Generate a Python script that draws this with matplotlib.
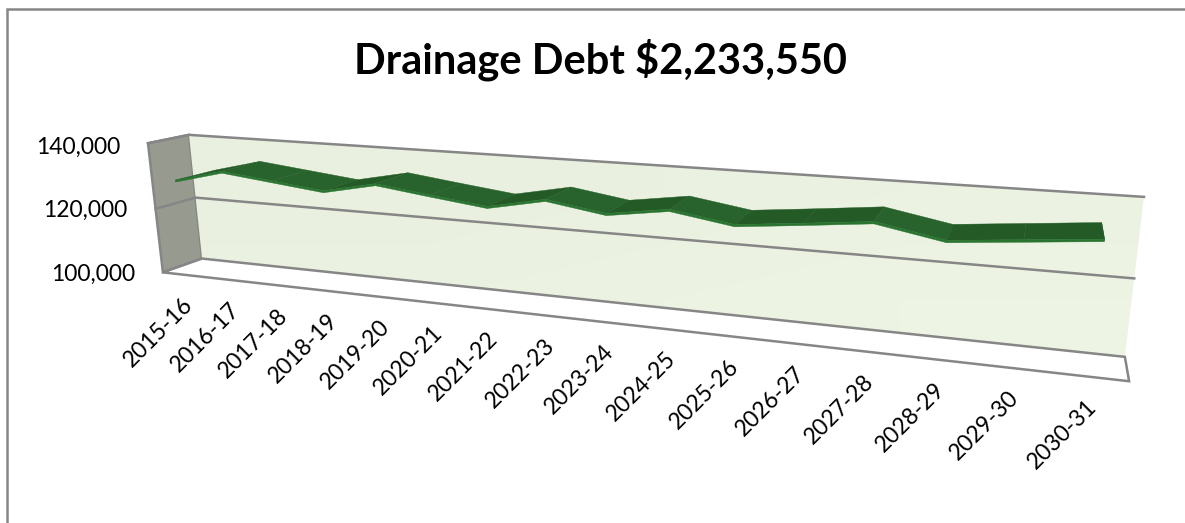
import numpy as np
import matplotlib.pyplot as plt
from matplotlib.patches import Polygon
from matplotlib.colors import LinearSegmentedColormap

plt.rcParams['font.family'] = ['Lato', 'DejaVu Sans']

title = 'Drainage Debt $2,233,550'
years = ['2015-16', '2016-17', '2017-18', '2018-19', '2019-20', '2020-21',
         '2021-22', '2022-23', '2023-24', '2024-25', '2025-26', '2026-27',
         '2027-28', '2028-29', '2029-30', '2030-31']
debt = [129400, 133200, 131500, 129800, 133000, 131000, 129100, 132300,
        129800, 132200, 129600, 131300, 133100, 129900, 131500, 133100]
y_ticks = [100000, 120000, 140000]
y_min, y_max = 100000, 140000

GRAY = '#868686'
SIDE = '#979a8e'
RIBBON_DOWN = '#28622c'
RIBBON_FLAT = '#245a26'
RIBBON_EDGE = '#2a7431'
RIBBON_DROP = 600  # thickness of the ribbon, in axis units

# box corners (category pos, axis fraction, depth) and where they land on the canvas
box_3d = [(0, 0, 0), (0, 1, 0), (0, 0, 1), (0, 1, 1),
          (16, 1, 1), (16, 0, 1), (16, 0, 0)]
box_px = [(163, 272), (148, 143), (202, 259), (189, 135),
          (1144, 197), (1125, 356), (1129, 382)]


def fitCamera(pts3d, pts2d):
    rows = []
    for (x, y, z), (u, v) in zip(pts3d, pts2d):
        rows.append([x, y, z, 1, 0, 0, 0, 0, -u * x, -u * y, -u * z, -u])
        rows.append([0, 0, 0, 0, x, y, z, 1, -v * x, -v * y, -v * z, -v])
    _, _, vt = np.linalg.svd(np.array(rows, dtype=float))
    return vt[-1].reshape(3, 4)


camera = fitCamera(box_3d, box_px)


def project(x, value, z):
    frac = (value - y_min) / (y_max - y_min)
    p = camera @ np.array([x, frac, z, 1.0])
    return p[0] / p[2], p[1] / p[2]


fig = plt.figure(figsize=(11.85, 5.23), dpi=100)
ax = fig.add_axes([0, 0, 1, 1])
ax.set_xlim(0, 1185)
ax.set_ylim(523, 0)
ax.axis('off')

# chart frame, only top and left sides
ax.plot([7, 7, 1185], [523, 9, 9], color=GRAY, lw=1.8, solid_joinstyle='miter')

# side wall, back wall, floor
side = [project(0, y_min, 0), project(0, y_max, 0), project(0, y_max, 1), project(0, y_min, 1)]
back = [project(0, y_min, 1), project(0, y_max, 1), project(16, y_max, 1), project(16, y_min, 1)]
floor = [project(0, y_min, 0), project(0, y_min, 1), project(16, y_min, 1), project(16, y_min, 0)]
ax.add_patch(Polygon(side, closed=True, fc=SIDE, ec=GRAY, lw=1.8, zorder=1))

# back wall has a faint gradient, lighter towards the upper right
wall_cmap = LinearSegmentedColormap.from_list('wall', ['#e9f0df', '#eef4e4'])
wall_clip = Polygon(back, closed=True, fc='none', ec='none', transform=ax.transData)
ax.add_patch(wall_clip)
grad = np.array([[0.0, 0.5], [0.5, 1.0]])
wall_img = ax.imshow(grad, cmap=wall_cmap, extent=(189, 1144, 356, 135), aspect='auto',
                     interpolation='bilinear', zorder=1)
wall_img.set_clip_path(wall_clip)
ax.set_xlim(0, 1185)
ax.set_ylim(523, 0)

ax.add_patch(Polygon(floor, closed=True, fc='white', ec=GRAY, lw=1.8, zorder=2))

# top edge of the back wall and the gridlines
for tick in y_ticks[1:]:
    pts = [project(0, tick, 0), project(0, tick, 1), project(16, tick, 1)]
    ax.plot(*zip(*pts), color=GRAY, lw=1.8, zorder=3)

# ribbon, one face per segment
xs = np.arange(len(debt)) + 0.5
for i in range(len(debt) - 1):
    x0, x1 = xs[i], xs[i + 1]
    v0, v1 = debt[i], debt[i + 1]
    f0, f1 = project(x0, v0, 0), project(x1, v1, 0)
    b0, b1 = project(x0, v0, 1), project(x1, v1, 1)
    color = RIBBON_DOWN if v1 < v0 else RIBBON_FLAT
    ax.add_patch(Polygon([f0, f1, b1, b0], closed=True, fc=color, ec=color, lw=0.3, zorder=4))
    d0, d1 = project(x0, v0 - RIBBON_DROP, 0), project(x1, v1 - RIBBON_DROP, 0)
    ax.add_patch(Polygon([f0, f1, d1, d0], closed=True, fc=RIBBON_EDGE, ec=RIBBON_EDGE,
                         lw=0.3, zorder=5))
# closing face at the last year
end = [project(xs[-1], debt[-1], 0), project(xs[-1], debt[-1], 1),
       project(xs[-1], debt[-1] - RIBBON_DROP, 1), project(xs[-1], debt[-1] - RIBBON_DROP, 0)]
ax.add_patch(Polygon(end, closed=True, fc=RIBBON_FLAT, ec='none', zorder=4))

# axis labels
for tick in y_ticks:
    px, py = project(0, tick, 0)
    ax.text(px - 28, py + (4 if tick == y_max else 2), f'{tick:,}', ha='right', va='center',
            fontsize=16.5, color='black')

for x, label in zip(xs, years):
    px, py = project(x, y_min, 0)
    ax.text(px - 4, py + 19, label, rotation=45, rotation_mode='anchor', ha='right', va='top',
            fontsize=16.5, color='black')

ax.text(601, 60, title, ha='center', va='center', fontsize=30, fontweight='bold', color='black')

fig.savefig('out.png', dpi=100)
